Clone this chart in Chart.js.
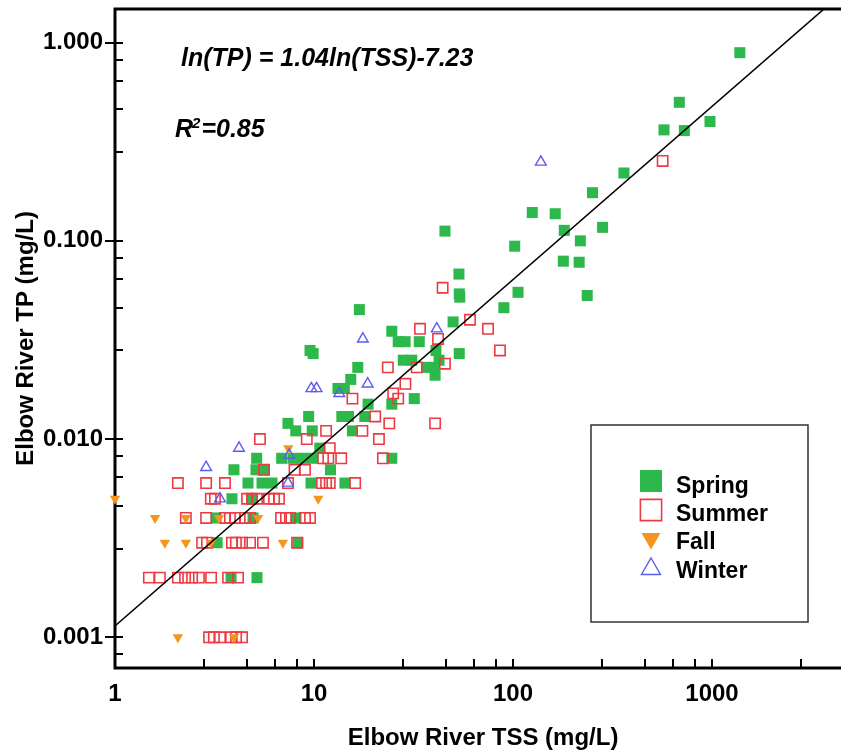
<!DOCTYPE html>
<html>
<head>
<meta charset="utf-8">
<script src="https://cdn.jsdelivr.net/npm/chart.js@4.4.0/dist/chart.umd.min.js"></script>
<style>
  html, body { margin: 0; padding: 0; background: #fff; overflow: hidden; }
  #wrap { width: 860px; height: 755px; }
</style>
</head>
<body>
<div id="wrap"><canvas id="chart" width="860" height="755"></canvas></div>
<script>
'use strict';

const seasons = ['Spring', 'Summer', 'Fall', 'Winter'];

const springTSS = [1380, 685, 574, 726, 977, 361, 251, 125, 163, 181, 282, 218, 102, 45.5, 179,
  215, 53.5, 53.7, 54, 106, 236, 90, 50, 16.9, 24.6, 26.5, 28.7, 33.8, 41, 42.5, 36.8, 40.1, 40.6,
  53.7, 28.1, 31, 9.55, 9.9, 16.6, 15.3, 13.2, 14.2, 18.7, 24.6, 31.9, 18.0, 13.8, 14.9, 9.4, 7.4,
  8.1, 9.8, 15.6, 10.7, 5.15, 6.88, 7.84, 8.81, 9.89, 24.6, 3.96, 5.11, 5.61, 12.1, 4.66, 5.48,
  6.15, 9.66, 14.3, 3.87, 4.88, 3.22, 4.94, 8.12, 3.26, 8.31, 3.83, 5.17];
const springTP = [0.89, 0.50, 0.363, 0.36, 0.40, 0.22, 0.175, 0.139, 0.137, 0.113, 0.117, 0.100,
  0.094, 0.112, 0.079, 0.078, 0.068, 0.054, 0.052, 0.055, 0.053, 0.046, 0.039, 0.045, 0.035, 0.031,
  0.031, 0.031, 0.028, 0.025, 0.023, 0.023, 0.021, 0.027, 0.025, 0.025, 0.028, 0.027, 0.023, 0.020,
  0.018, 0.018, 0.015, 0.015, 0.016, 0.013, 0.013, 0.013, 0.013, 0.012, 0.011, 0.011, 0.011, 0.009,
  0.008, 0.008, 0.008, 0.008, 0.008, 0.008, 0.007, 0.007, 0.007, 0.007, 0.006, 0.006, 0.006, 0.006,
  0.006, 0.005, 0.005, 0.004, 0.004, 0.004, 0.003, 0.003, 0.002, 0.002];

const summerTSS = [565, 44.3, 60.8, 34.1, 74.9, 42, 86, 45.5, 32.8, 23.5, 28.8, 25, 26.5, 15.6, 20.3,
  23.9, 40.6, 21.2, 9.2, 5.35, 11.5, 17.5, 12.0,
  11.1, 11.8, 13.7, 22.2,
  5.61, 7.98, 9.01,
  2.07, 2.87, 3.57, 7.40, 10.97, 11.5, 12.0, 16.1,
  3.03, 3.18, 4.61, 4.88, 5.17, 5.94, 6.30, 6.67,
  2.27, 2.87, 3.57, 3.78, 4.01, 4.50, 4.77, 6.83, 7.23, 7.57, 9.01, 9.55,
  2.74, 2.90, 3.87, 4.05, 4.35, 4.77, 5.54, 8.22,
  1.48, 1.68, 2.07, 2.25, 2.44, 2.64, 3.04, 3.70, 4.15,
  2.97, 3.14, 3.37, 3.83, 4.06, 4.35];
const summerTP = [0.253, 0.058, 0.040, 0.036, 0.036, 0.032, 0.028, 0.024, 0.023, 0.023, 0.019, 0.017,
  0.016, 0.016, 0.013, 0.012, 0.012, 0.010, 0.010, 0.010, 0.011, 0.011, 0.009,
  0.008, 0.008, 0.008, 0.008,
  0.007, 0.007, 0.007,
  0.006, 0.006, 0.006, 0.006, 0.006, 0.006, 0.006, 0.006,
  0.005, 0.005, 0.005, 0.005, 0.005, 0.005, 0.005, 0.005,
  0.004, 0.004, 0.004, 0.004, 0.004, 0.004, 0.004, 0.004, 0.004, 0.004, 0.004, 0.004,
  0.003, 0.003, 0.003, 0.003, 0.003, 0.003, 0.003, 0.003,
  0.002, 0.002, 0.002, 0.002, 0.002, 0.002, 0.002, 0.002, 0.002,
  0.001, 0.001, 0.001, 0.001, 0.001, 0.001];

const fallTSS = [2.07, 3.96, 1.78, 2.27, 3.03, 6.98, 1.59, 2.27, 3.33, 5.23, 1.0, 10.5, 7.43];
const fallTP = [0.001, 0.001, 0.003, 0.003, 0.003, 0.003, 0.004, 0.004, 0.004, 0.004, 0.005, 0.005, 0.009];

const winterTSS = [138, 41.4, 17.6, 9.7, 10.3, 18.6, 13.4, 4.2, 7.5, 2.87, 7.4, 3.37];
const winterTP = [0.25, 0.036, 0.032, 0.018, 0.018, 0.019, 0.017, 0.009, 0.0083, 0.0072, 0.006, 0.005];

// fitted line as drawn on the figure
const fitTSS = [1, 3656];
const fitTP = [0.00114, 1.48];

const xTickValues = [1, 2.8, 4.6, 6.4, 8.2, 10, 28, 46, 64, 82, 100, 280, 460, 640, 820, 1000, 2800, 4600];
const xMajor = [1, 10, 100, 1000];
const xTickLabels = ['1', '10', '100', '1000'];
const yTickValues = [0.00082, 0.001, 0.0028, 0.0046, 0.0064, 0.0082, 0.01, 0.028, 0.046, 0.064, 0.082,
  0.1, 0.28, 0.46, 0.64, 0.82, 1];
const yMajor = [0.001, 0.01, 0.1, 1];
const yTickLabels = ['0.001', '0.010', '0.100', '1.000'];

const equationText = 'ln(TP) = 1.04ln(TSS)-7.23';
const r2Text = '=0.85';

const toPts = (xs, ys) => xs.map((x, i) => ({ x, y: ys[i] }));

const FONT = "'Liberation Sans', Arial, sans-serif";

const frame = {
  id: 'frame',
  beforeDatasetsDraw(chart) {
    const { ctx, chartArea: a, scales: { x, y } } = chart;
    ctx.save();
    ctx.strokeStyle = '#000';
    ctx.lineWidth = 3;
    ctx.beginPath();
    ctx.moveTo(a.left - 1.5, a.top); ctx.lineTo(a.right, a.top);
    ctx.moveTo(a.left, a.top); ctx.lineTo(a.left, a.bottom + 1.5);
    ctx.moveTo(a.left - 1.5, a.bottom); ctx.lineTo(a.right, a.bottom);
    ctx.stroke();
    ctx.lineWidth = 2;
    ctx.beginPath();
    y.ticks.forEach(t => {
      const py = Math.round(y.getPixelForValue(t.value));
      const major = yMajor.includes(t.value);
      ctx.moveTo(a.left - (major ? 10 : 0), py);
      ctx.lineTo(a.left + 8, py);
    });
    x.ticks.forEach(t => {
      const px = Math.round(x.getPixelForValue(t.value));
      ctx.moveTo(px, a.bottom);
      ctx.lineTo(px, a.bottom - 9);
    });
    ctx.stroke();
    ctx.restore();
  },
  afterDraw(chart) {
    const { ctx } = chart;
    ctx.save();
    ctx.fillStyle = '#000';
    ctx.textBaseline = 'alphabetic';
    ctx.font = "italic bold 25px " + FONT;
    ctx.fillText(equationText, 181, 66);
    ctx.fillText('R', 175, 137);
    const rw = ctx.measureText('R').width;
    ctx.font = "italic bold 15px " + FONT;
    ctx.fillText('2', 175 + rw - 1, 128);
    const sw = ctx.measureText('2').width;
    ctx.font = "italic bold 25px " + FONT;
    ctx.fillText(r2Text, 175 + rw + sw, 137);

    // legend
    ctx.strokeStyle = '#333';
    ctx.lineWidth = 1.5;
    ctx.strokeRect(591, 425, 217, 197);
    const markers = [
      { y: 481, radius: 15.6 },
      { y: 510, radius: 15 },
      { y: 538.5, radius: 11 },
      { y: 569, radius: 11 },
    ];
    const baselines = [493, 521, 549, 578];
    chart.data.datasets.filter(d => seasons.includes(d.label)).forEach(d => {
      const i = seasons.indexOf(d.label);
      const m = markers[i];
      ctx.fillStyle = d.backgroundColor;
      ctx.strokeStyle = d.borderColor;
      ctx.lineWidth = d.borderWidth || 0.01;
      Chart.helpers.drawPoint(ctx, {
        pointStyle: d.pointStyle, rotation: d.pointRotation || 0,
        radius: m.radius, borderWidth: d.borderWidth || 0,
      }, 651, m.y);
      ctx.fillStyle = '#000';
      ctx.font = "bold 23px " + FONT;
      ctx.fillText(d.label, 676, baselines[i]);
    });
    ctx.restore();
  },
};

new Chart(document.getElementById('chart'), {
  type: 'scatter',
  data: {
    datasets: [
      {
        type: 'line', label: 'fit', data: toPts(fitTSS, fitTP), order: 0,
        borderColor: '#000', borderWidth: 1.5, pointRadius: 0, fill: false,
      },
      {
        label: seasons[0], data: toPts(springTSS, springTP), order: 4,
        pointStyle: 'rect', pointRadius: 7.8, backgroundColor: '#2db84b', borderColor: '#2db84b', borderWidth: 0,
      },
      {
        label: seasons[1], data: toPts(summerTSS, summerTP), order: 3,
        pointStyle: 'rect', pointRadius: 7.3, backgroundColor: 'rgba(255,255,255,0)', borderColor: '#ee3a43', borderWidth: 1.6,
      },
      {
        label: seasons[2], data: toPts(fallTSS, fallTP), order: 2, clip: false,
        pointStyle: 'triangle', pointRotation: 180, pointRadius: 6, backgroundColor: '#f7941e', borderColor: '#f7941e', borderWidth: 0,
      },
      {
        label: seasons[3], data: toPts(winterTSS, winterTP), order: 1,
        pointStyle: 'triangle', pointRadius: 6.2, backgroundColor: 'rgba(255,255,255,0)', borderColor: '#5c5cf2', borderWidth: 1.4,
      },
    ],
  },
  options: {
    responsive: false,
    animation: false,
    devicePixelRatio: 1,
    layout: { padding: { top: 8, right: 8, left: 0, bottom: 0 } },
    plugins: { legend: { display: false }, tooltip: { enabled: false } },
    scales: {
      x: {
        type: 'logarithmic', position: 'bottom', min: 1, max: 5000,
        afterFit: s => { s.height = 87; s.paddingLeft = 0; s.paddingRight = 0; },
        afterBuildTicks: s => { s.ticks = xTickValues.map(v => ({ value: v })); },
        grid: { display: false, drawTicks: false },
        border: { display: false },
        ticks: {
          autoSkip: false, maxRotation: 0, padding: 12, color: '#000',
          font: { family: FONT, size: 24, weight: 'bold' },
          callback: v => { const i = xMajor.indexOf(v); return i >= 0 ? xTickLabels[i] : ''; },
        },
        title: {
          display: true, text: 'Elbow River TSS (mg/L)', color: '#000',
          font: { family: FONT, size: 24, weight: 'bold' }, padding: { top: 0, bottom: 2 },
        },
      },
      y: {
        type: 'logarithmic', position: 'left', min: 0.0007, max: 1.48,
        afterFit: s => { s.width = 115; s.paddingTop = 0; s.paddingBottom = 0; },
        afterBuildTicks: s => { s.ticks = yTickValues.map(v => ({ value: v })); },
        grid: { display: false, drawTicks: false },
        border: { display: false },
        ticks: {
          autoSkip: false, padding: 12, color: '#000',
          font: { family: FONT, size: 24, weight: 'bold' },
          callback: v => { const i = yMajor.indexOf(v); return i >= 0 ? yTickLabels[i] : ''; },
        },
        title: {
          display: true, text: 'Elbow River TP (mg/L)', color: '#000',
          font: { family: FONT, size: 24, weight: 'bold' }, padding: { top: 12, bottom: 0 },
        },
      },
    },
  },
  plugins: [frame],
});
</script>
</body>
</html>
